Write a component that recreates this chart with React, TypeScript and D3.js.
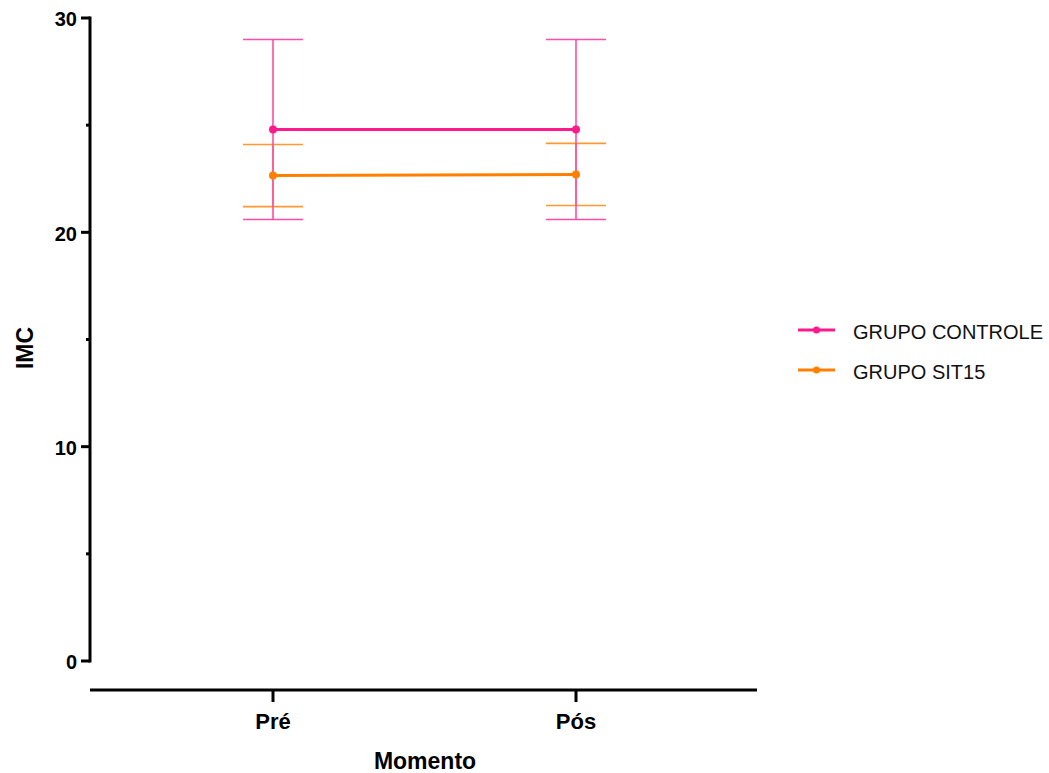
import React, { useEffect, useRef } from "react";
import * as d3 from "d3";

const moments = ["Pré", "Pós"];
const groups = ["GRUPO CONTROLE", "GRUPO SIT15"];
const controleMean = [24.8, 24.8];
const controleSd = [4.2, 4.2];
const sit15Mean = [22.65, 22.7];
const sit15Sd = [1.45, 1.45];
const yTicks = [0, 10, 20, 30];
const yMinorTicks = [5, 15, 25];

const lineColors = ["#ff1a8c", "#ff8000"];
const barColors = ["#ff4da6", "#ff9a33"];

const App = () => {
  const ref = useRef<SVGSVGElement>(null);

  useEffect(() => {
    const svg = d3.select(ref.current);
    svg.selectAll("*").remove();

    const width = 1049;
    const height = 773;
    const font = "'Liberation Sans', Arial, sans-serif";

    const y = d3.scaleLinear().domain([0, 30]).range([661, 18]);
    const x = d3.scalePoint().domain(moments).range([273, 576]);

    svg.attr("width", width).attr("height", height);

    // y axis
    const yAxis = svg.append("g").attr("transform", "translate(90,0)");
    yAxis.append("line").attr("x1", 0).attr("x2", 0).attr("y1", y(0) + 1.5).attr("y2", y(30) - 1.5)
      .attr("stroke", "#000").attr("stroke-width", 3);
    yTicks.forEach((t) => {
      yAxis.append("line").attr("x1", -9).attr("x2", 0).attr("y1", y(t)).attr("y2", y(t))
        .attr("stroke", "#000").attr("stroke-width", 3);
      yAxis.append("text").attr("x", -13).attr("y", y(t)).attr("dy", "0.42em")
        .attr("text-anchor", "end").style("font-family", font).style("font-weight", "bold")
        .style("font-size", "20px").text(t);
    });
    yMinorTicks.forEach((t) => {
      yAxis.append("line").attr("x1", -4).attr("x2", 0).attr("y1", y(t)).attr("y2", y(t))
        .attr("stroke", "#000").attr("stroke-width", 3);
    });

    // x axis
    const xAxis = svg.append("g").attr("transform", "translate(0,690)");
    xAxis.append("line").attr("x1", 90).attr("x2", 757).attr("y1", 0).attr("y2", 0)
      .attr("stroke", "#000").attr("stroke-width", 3);
    moments.forEach((m) => {
      xAxis.append("line").attr("x1", x(m)).attr("x2", x(m)).attr("y1", 0).attr("y2", 12)
        .attr("stroke", "#000").attr("stroke-width", 3);
      xAxis.append("text").attr("x", x(m)).attr("y", 39).attr("text-anchor", "middle")
        .style("font-family", font).style("font-weight", "bold").style("font-size", "22px").text(m);
    });

    svg.append("text").attr("x", 425).attr("y", 769).attr("text-anchor", "middle")
      .style("font-family", font).style("font-weight", "bold").style("font-size", "23px").text("Momento");
    svg.append("text").attr("transform", "translate(33,348) rotate(-90)").attr("text-anchor", "middle")
      .style("font-family", font).style("font-weight", "bold").style("font-size", "23px").text("IMC");

    const series = [
      { means: controleMean, sds: controleSd },
      { means: sit15Mean, sds: sit15Sd },
    ];
    const capHalf = 30;

    // error bars, controle drawn last so its whiskers sit on top
    [1, 0].forEach((si) => {
      const s = series[si];
      moments.forEach((m, i) => {
        const cx = x(m)!;
        const hi = y(s.means[i] + s.sds[i]);
        const lo = y(s.means[i] - s.sds[i]);
        const g = svg.append("g").attr("stroke", barColors[si]).attr("stroke-width", 1.6);
        g.append("line").attr("x1", cx).attr("x2", cx).attr("y1", hi).attr("y2", lo);
        g.append("line").attr("x1", cx - capHalf).attr("x2", cx + capHalf).attr("y1", hi).attr("y2", hi);
        g.append("line").attr("x1", cx - capHalf).attr("x2", cx + capHalf).attr("y1", lo).attr("y2", lo);
      });
    });

    const line = d3.line<number>().x((_, i) => x(moments[i])!).y((d) => y(d));
    series.forEach((s, si) => {
      svg.append("path").datum(s.means).attr("d", line).attr("fill", "none")
        .attr("stroke", lineColors[si]).attr("stroke-width", 3);
      svg.append("g").selectAll("circle").data(s.means).join("circle")
        .attr("cx", (_, i) => x(moments[i])!).attr("cy", (d) => y(d)).attr("r", 4)
        .attr("fill", lineColors[si]);
    });

    // legend
    const legend = svg.append("g").attr("transform", "translate(798,330)");
    groups.forEach((g, i) => {
      const row = legend.append("g").attr("transform", `translate(0,${i * 40})`);
      row.append("line").attr("x1", 0).attr("x2", 37).attr("y1", 0).attr("y2", 0)
        .attr("stroke", lineColors[i]).attr("stroke-width", 3);
      row.append("circle").attr("cx", 18.5).attr("cy", 0).attr("r", 3.5).attr("fill", lineColors[i]);
      row.append("text").attr("x", 55).attr("y", 2).attr("dy", "0.36em")
        .style("font-family", font).style("font-size", "20px").attr("fill", "#111").text(g);
    });
  }, []);

  return <svg ref={ref} style={{ position: "absolute", left: 0, top: 0 }} />;
};

export default App;
